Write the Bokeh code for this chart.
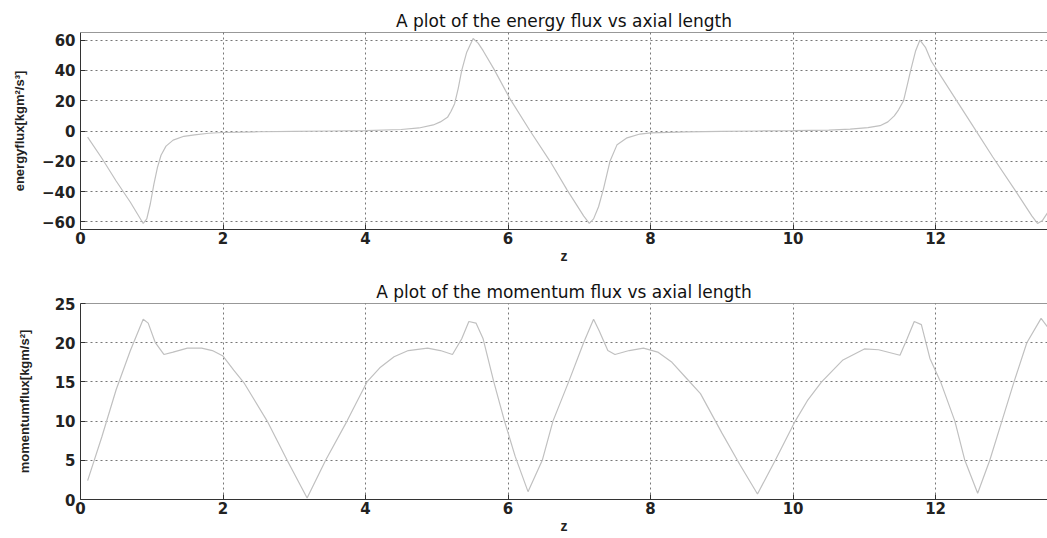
from bokeh.plotting import figure
from bokeh.layouts import column
from bokeh.models import Range1d, Span, FixedTicker
from bokeh.embed import file_html
from bokeh.resources import INLINE

# ---- data ----
energy_z = [0.10, 0.30, 0.50, 0.70, 0.88, 0.93, 0.98, 1.03, 1.08, 1.13, 1.20, 1.30, 1.45, 1.60,
            1.80, 2.00, 2.50, 3.00, 3.50, 4.00, 4.50, 4.75, 4.95, 5.05, 5.15, 5.20, 5.25, 5.30,
            5.35, 5.42, 5.51, 5.58, 5.65, 5.80, 6.03, 6.31, 6.59, 6.83, 7.06, 7.14, 7.20, 7.27,
            7.34, 7.43, 7.53, 7.67, 7.85, 8.00, 8.50, 9.00, 9.50, 10.00, 10.50, 10.80, 11.05,
            11.22, 11.33, 11.42, 11.48, 11.55, 11.60, 11.65, 11.72, 11.78, 11.86, 11.94, 12.20,
            12.50, 12.80, 13.10, 13.35, 13.43, 13.50, 13.57]
energy_flux = [-4, -18, -33, -47, -61, -58, -48, -35, -24, -16, -10, -6, -3.5, -2.5,
               -1.5, -1, -0.5, -0.2, 0, 0.3, 1, 2, 4, 6, 9, 13, 18, 28,
               40, 52, 61, 58, 53, 41, 21, 0, -20, -39, -56, -61, -58, -50,
               -38, -20, -9, -4.5, -2, -1.2, -0.6, -0.3, 0, 0.2, 0.6, 1.2, 2.2,
               3.5, 6, 10, 14, 20, 30, 40, 53, 60, 55, 46, 27,
               5, -17, -38, -56, -61, -59, -54]

momentum_z = [0.10, 0.30, 0.50, 0.70, 0.88, 0.95, 1.05, 1.17, 1.30, 1.50, 1.70, 1.85, 2.00,
              2.15, 2.30, 2.62, 2.90, 3.18, 3.44, 3.74, 4.02, 4.20, 4.40, 4.60, 4.87, 5.05, 5.22,
              5.35, 5.45, 5.55, 5.65, 5.80, 5.95, 6.10, 6.28, 6.48, 6.63, 6.85, 7.06, 7.20,
              7.28, 7.40, 7.50, 7.70, 7.90, 8.10, 8.30, 8.50, 8.70, 9.00, 9.25, 9.50, 9.75,
              10.03, 10.20, 10.40, 10.70, 11.00, 11.20, 11.50, 11.60, 11.70, 11.80, 11.92, 12.07,
              12.27, 12.41, 12.59, 12.76, 12.93, 13.10, 13.28, 13.48, 13.57]
momentum_flux = [2.4, 8, 14, 19, 23, 22.5, 20, 18.5, 18.8, 19.3, 19.3, 19, 18.3,
                 16.5, 14.8, 10, 5, 0.2, 5, 10, 15, 16.8, 18.2, 19, 19.3, 19, 18.5,
                 20.5, 22.7, 22.5, 20.5, 15, 10, 5.5, 1, 5, 10, 15, 20, 23,
                 21.5, 19, 18.5, 19, 19.3, 18.8, 17.5, 15.5, 13.5, 8.5, 4.5, 0.7, 5,
                 10, 12.6, 15, 17.8, 19.2, 19.1, 18.4, 20.5, 22.7, 22.3, 18, 15,
                 10, 5, 0.8, 5, 10, 15, 20, 23.1, 22]

z_ticks = [0, 2, 4, 6, 8, 10, 12]
energy_ticks = [-60, -40, -20, 0, 20, 40, 60]
momentum_ticks = [0, 5, 10, 15, 20, 25]

TICK_FONT = "DejaVu Sans"
LINE_COLOR = "#c0c0c0"
GRID_COLOR = "#555555"


def style(p, yticks, ylabel_standoff):
    p.outline_line_color = None
    for ax in (p.xaxis[0], p.yaxis[0]):
        ax.axis_line_color = "#333333"
        ax.major_tick_in = 5
        ax.major_tick_out = 0
        ax.minor_tick_line_color = None
        ax.major_tick_line_color = "#333333"
        ax.major_label_text_font = TICK_FONT
        ax.major_label_text_font_size = "15px"
        ax.major_label_text_font_style = "bold"
        ax.major_label_text_color = "#222222"
    p.xaxis[0].ticker = FixedTicker(ticks=z_ticks)
    p.yaxis[0].ticker = FixedTicker(ticks=yticks)
    p.xaxis[0].major_label_standoff = 2
    p.xaxis[0].axis_label_standoff = 1
    p.xaxis[0].axis_label_text_font = "Liberation Sans"
    p.xaxis[0].axis_label_text_font_size = "14px"
    p.xaxis[0].axis_label_text_font_style = "bold"
    p.xaxis[0].axis_label_text_color = "#222222"
    p.yaxis[0].major_label_standoff = 5
    p.yaxis[0].axis_label_standoff = ylabel_standoff
    p.yaxis[0].axis_label_text_font = "Liberation Sans"
    p.yaxis[0].axis_label_text_font_size = "13px"
    p.yaxis[0].axis_label_text_font_style = "bold"
    p.yaxis[0].axis_label_text_color = "#222222"
    for g in (p.xgrid[0], p.ygrid[0]):
        g.grid_line_color = GRID_COLOR
        g.grid_line_dash = "2 3"
        g.grid_line_width = 1
        g.grid_line_alpha = 0.8
    p.title.text_font = TICK_FONT
    p.title.text_font_size = "17px"
    p.title.text_font_style = "normal"
    p.title.text_color = "#111111"
    p.title.align = "center"
    p.title.standoff = 4
    p.add_layout(Span(location=p.y_range.end, dimension="width",
                      line_color="#333333", line_width=1))
    p.toolbar.logo = None


p1 = figure(width=1047, height=270, output_backend="svg", toolbar_location=None,
            x_range=Range1d(0, 13.57), y_range=Range1d(-65, 65),
            title="A plot of the energy flux vs axial length",
            x_axis_label="z", y_axis_label="energyflux[kgm²/s³]",
            min_border_left=80, min_border_right=0, min_border_top=32, min_border_bottom=41,
            background_fill_color="white", border_fill_color="white")
p1.line(energy_z, energy_flux, line_color=LINE_COLOR, line_width=1.2)
style(p1, energy_ticks, 12)

p2 = figure(width=1047, height=268, output_backend="svg", toolbar_location=None,
            x_range=Range1d(0, 13.57), y_range=Range1d(0, 25),
            title="A plot of the momentum flux vs axial length",
            x_axis_label="z", y_axis_label="momentumflux[kgm/s²]",
            min_border_left=80, min_border_right=0, min_border_top=33, min_border_bottom=39,
            background_fill_color="white", border_fill_color="white")
p2.line(momentum_z, momentum_flux, line_color=LINE_COLOR, line_width=1.2)
style(p2, momentum_ticks, 20)

layout = column(p1, p2, spacing=0)
open("out.html", "w").write(file_html(layout, INLINE))
